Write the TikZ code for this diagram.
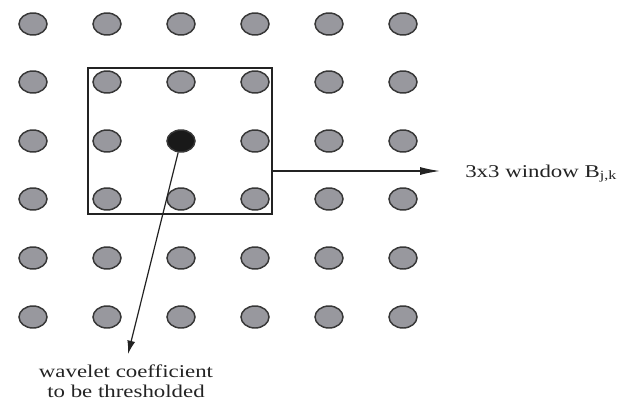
\documentclass[tikz,border=0pt]{standalone}
\usepackage{fontspec}
\setmainfont{Liberation Serif}
\usetikzlibrary{shapes.geometric,arrows.meta}
\definecolor{dotfill}{RGB}{152,152,158}
\definecolor{dotline}{RGB}{55,55,55}
\definecolor{inkc}{RGB}{35,35,35}
\begin{document}
\begin{tikzpicture}[x=0.75pt,y=-0.75pt,
  gdot/.style={ellipse,draw=dotline,fill=dotfill,line width=1.1pt,minimum width=21pt,minimum height=16.5pt,inner sep=0pt},
  bdot/.style={gdot,fill=black!90},
  winbox/.style={draw=inkc,line width=1pt,inner sep=0pt},
  conn/.style={draw=inkc,line width=0.9pt},
  lbl/.style={font=\fontsize{13.5}{15}\selectfont,text=inkc,inner sep=0pt}]
\useasboundingbox (0,0) rectangle (628,400);
\node[winbox,minimum width=138pt,minimum height=109.5pt] (win) at (180,141) {};
\foreach \i/\x in {1/33,2/107,3/181,4/255,5/329,6/403}
  \foreach \j/\y in {1/24,2/82,3/141,4/199,5/258,6/317}
  {\ifnum\i\j=33 \node[bdot] (dot) at (\x,\y) {};\else \node[gdot] (c\i\j) at (\x,\y) {};\fi}
\coordinate (t1) at (440,171);
\draw[conn,-{Latex[length=15pt,width=6pt]}] (win.east |- t1) -- (t1);
\node[lbl,anchor=base west] (lab1) at (465,177) {\scalebox{1.27}[1]{3x3 window B\textsubscript{j,k}}};
\coordinate (t2) at (128,354);
\draw[conn,-{Latex[length=10pt,width=6pt]}] (dot) -- (t2);
\node[lbl,anchor=north] (lab2) at (126,363) {\scalebox{1.27}[1]{\begin{tabular}{@{}c@{}}wavelet coefficient\\to be thresholded\end{tabular}}};
\end{tikzpicture}
\end{document}
